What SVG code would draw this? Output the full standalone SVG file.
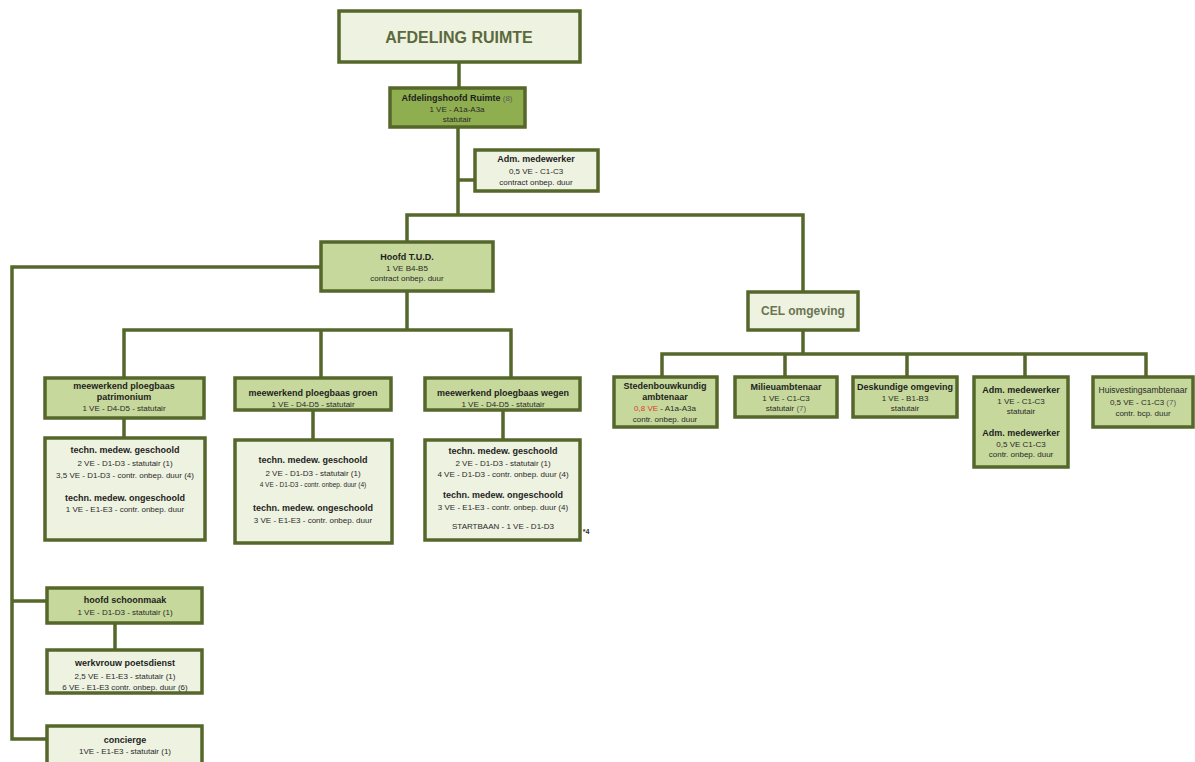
<svg xmlns="http://www.w3.org/2000/svg" width="1195" height="762" viewBox="0 0 1195 762">
<style>
.b{stroke:#56672b;stroke-width:3.5}
.l{fill:#eef2e1}
.m{fill:#c6d89b}
.d{fill:#8fae4f}
.c{fill:none;stroke:#56672b;stroke-width:3.5;stroke-linecap:square}
text{font-family:"Liberation Sans",Arial,sans-serif;text-anchor:middle;fill:#2a2a2a;font-size:8px}
.t{font-weight:bold;font-size:9px;fill:#1e1e1e}
.g{fill:#5e5e5e}
</style>
<rect width="1195" height="762" fill="#ffffff"/>
<g id="connectors">
<path class="c" d="M459 62V88M458 127V215M458 180H475M407 215H803M407 215V242M803 215V292M803 330V354M662 354H1146M662 354V377M785 354V377M907 354V377M1025 354V377M1146 354V377"/>
<path class="c" d="M407 291V330M124 330H511M124 330V377M321 330V378M511 330V378M124 418V438M313 410V440M503 410V440"/>
<path class="c" d="M321 267H12V739H47M12 601H47M115 623V650"/>
</g>
<g id="afdeling"><rect class="b l" x="339" y="11" width="241" height="51" stroke-width="4"/><text x="459" y="43" style="font-size:16px;font-weight:bold;fill:#5b6a3c">AFDELING RUIMTE</text></g>
<g id="afdelingshoofd"><rect class="b d" x="390" y="88" width="135" height="39"/><text x="457" y="101"><tspan class="t">Afdelingshoofd Ruimte</tspan> <tspan class="g">(8)</tspan></text><text x="457" y="112">1 VE - A1a-A3a</text><text x="457" y="122">statutair</text></g>
<g id="adm1"><rect class="b l" x="475" y="150" width="123" height="41"/><text class="t" x="536" y="162">Adm. medewerker</text><text x="536" y="174">0,5 VE - C1-C3</text><text x="536" y="185">contract onbep. duur</text></g>
<g id="hoofdtud"><rect class="b m" x="321" y="242" width="172" height="49"/><text class="t" x="407" y="260">Hoofd T.U.D.</text><text x="407" y="271">1 VE B4-B5</text><text x="407" y="281">contract onbep. duur</text></g>
<g id="cel"><rect class="b l" x="748" y="292" width="110" height="38"/><text x="803" y="315" style="font-size:12px;font-weight:bold;fill:#6b7552">CEL omgeving</text></g>
<g id="patrimonium"><rect class="b m" x="45" y="378" width="159" height="40"/><text class="t" x="124" y="389">meewerkend ploegbaas</text><text class="t" x="124" y="400">patrimonium</text><text x="124" y="411">1 VE - D4-D5 - statutair</text></g>
<g id="tech1"><rect class="b l" x="45" y="438" width="160" height="102"/><text class="t" x="125" y="453">techn. medew. geschoold</text><text x="125" y="466">2 VE - D1-D3 - statutair (1)</text><text x="125" y="478">3,5 VE - D1-D3 - contr. onbep. duur (4)</text><text class="t" x="125" y="501">techn. medew. ongeschoold</text><text x="125" y="512">1 VE - E1-E3 - contr. onbep. duur</text></g>
<g id="groen"><rect class="b m" x="235" y="378" width="156" height="32"/><text class="t" x="313" y="396">meewerkend ploegbaas groen</text><text x="313" y="407">1 VE - D4-D5 - statutair</text></g>
<g id="tech2"><rect class="b l" x="235" y="440" width="157" height="103"/><text class="t" x="313" y="463">techn. medew. geschoold</text><text x="313" y="476">2 VE - D1-D3 - statutair (1)</text><text x="313" y="487" style="font-size:6.5px">4 VE - D1-D3 - contr. onbep. duur (4)</text><text class="t" x="313" y="511">techn. medew. ongeschoold</text><text x="313" y="523">3 VE - E1-E3 -  contr. onbep. duur</text></g>
<g id="wegen"><rect class="b m" x="425" y="378" width="155" height="32"/><text class="t" x="503" y="396">meewerkend ploegbaas wegen</text><text x="503" y="407">1 VE - D4-D5 - statutair</text></g>
<g id="tech3"><rect class="b l" x="425" y="440" width="155" height="100"/><text class="t" x="503" y="454">techn. medew. geschoold</text><text x="503" y="466">2 VE - D1-D3 - statutair (1)</text><text x="503" y="477">4 VE - D1-D3 - contr. onbep. duur (4)</text><text class="t" x="503" y="498">techn. medew. ongeschoold</text><text x="503" y="510">3 VE - E1-E3 - contr. onbep. duur (4)</text><text x="503" y="529">STARTBAAN - 1 VE - D1-D3</text><text x="586" y="534" style="font-size:7px;font-weight:bold">*4</text></g>
<g id="stedenbouw"><rect class="b m" x="614" y="377" width="103" height="50"/><text class="t" x="665" y="389">Stedenbouwkundig</text><text class="t" x="665" y="400">ambtenaar</text><text x="665" y="411"><tspan fill="#e03a2a">0,8 VE</tspan> - A1a-A3a</text><text x="665" y="422">contr. onbep. duur</text></g>
<g id="milieu"><rect class="b m" x="735" y="377" width="102" height="40"/><text class="t" x="786" y="390">Milieuambtenaar</text><text x="786" y="401">1 VE - C1-C3</text><text x="786" y="411">statutair <tspan class="g">(7)</tspan></text></g>
<g id="deskundige"><rect class="b m" x="853" y="377" width="104" height="40"/><text class="t" x="905" y="390">Deskundige omgeving</text><text x="905" y="401">1 VE - B1-B3</text><text x="905" y="411">statutair</text></g>
<g id="adm2"><rect class="b m" x="974" y="377" width="94" height="90"/><text class="t" x="1021" y="393">Adm. medewerker</text><text x="1021" y="404">1 VE - C1-C3</text><text x="1021" y="414">statutair</text><text class="t" x="1021" y="436">Adm. medewerker</text><text x="1021" y="447">0,5 VE C1-C3</text><text x="1021" y="457">contr. onbep. duur</text></g>
<g id="huisvesting"><rect class="b m" x="1093" y="377" width="100" height="50"/><text x="1143" y="393" style="font-size:8.5px">Huisvestingsambtenaar</text><text x="1143" y="405">0,5 VE - C1-C3 <tspan class="g">(7)</tspan></text><text x="1143" y="416">contr. bcp. duur</text></g>
<g id="schoonmaak"><rect class="b m" x="47" y="588" width="155" height="35"/><text class="t" x="125" y="603">hoofd schoonmaak</text><text x="125" y="615">1 VE - D1-D3 - statutair (1)</text></g>
<g id="werkvrouw"><rect class="b l" x="47" y="650" width="155" height="43"/><text class="t" x="125" y="666">werkvrouw poetsdienst</text><text x="125" y="679">2,5 VE - E1-E3 - statutair (1)</text><text x="125" y="690">6 VE - E1-E3 contr. onbep. duur (6)</text></g>
<g id="concierge"><rect class="b l" x="47" y="726" width="155" height="45"/><text class="t" x="125" y="743">concierge</text><text x="125" y="754">1VE - E1-E3 - statutair (1)</text></g>
</svg>
